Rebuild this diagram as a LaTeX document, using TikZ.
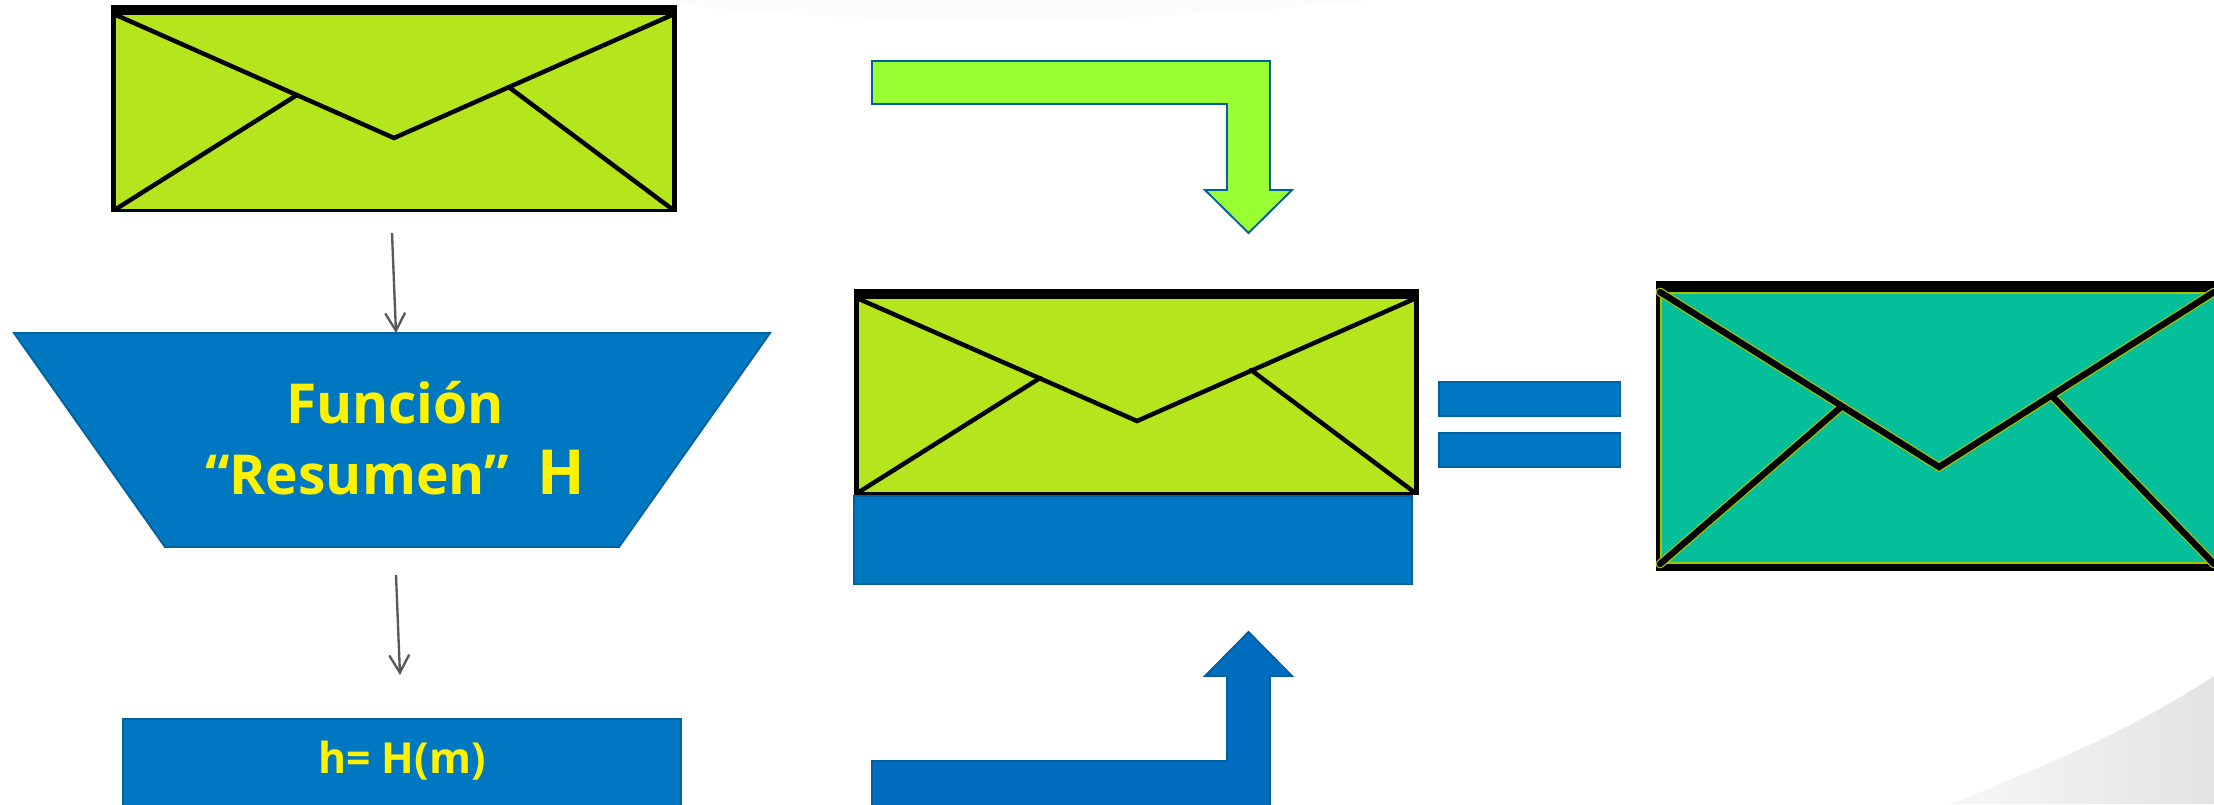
\documentclass[tikz,border=0pt]{standalone}
\usepackage{fontspec}
\setmainfont{Open Sans}
\usepackage{xcolor}
\usetikzlibrary{arrows.meta}
\definecolor{azul}{HTML}{0078C1}
\definecolor{azulborde}{HTML}{00609F}
\definecolor{azulflecha}{HTML}{006DBE}
\definecolor{verdeflecha}{HTML}{99FF33}
\definecolor{verdesobre}{HTML}{B5E61D}
\definecolor{turquesa}{HTML}{05BE9A}
\definecolor{halo}{HTML}{A3C400}
\definecolor{gris}{HTML}{595959}
\tikzset{
  caja/.style={fill=azul,draw=azulborde,line width=1.6pt},
  flecha/.style={draw=gris,line width=2pt,-{Straight Barb[length=15pt,width=17pt]}},
  linea/.style={draw=black,line width=3.8pt,line cap=round,line join=miter},
  lineagruesa/.style={draw=halo,line width=7.6pt,line cap=round},
  lineafina/.style={draw=black,line width=5.4pt,line cap=round},
  texto/.style={text=yellow,align=center,inner sep=0pt}
}
\begin{document}
\begin{tikzpicture}[x=0.03cm,y=-0.03cm]
  \useasboundingbox (0,0) rectangle (2214,804);
  \clip (0,0) rectangle (2214,804);
  \fill[white] (0,0) rectangle (2214,804);
  \fill[black!1] (640,0) .. controls (800,22) and (1100,30) .. (1370,0) -- cycle;
  \shade[left color=black!3,right color=black!11] (1950,804) .. controls (2050,765) and (2140,725) .. (2214,676) -- (2214,804) -- cycle;

  \coordinate (A1) at (116,15);
  \coordinate (B1) at (672,15);
  \coordinate (C1) at (672,209);
  \coordinate (D1) at (116,209);
  \coordinate (V1) at (394,138);
  \fill[black] (111,5) rectangle (677,212);
  \fill[verdesobre] (A1) rectangle (C1);
  \draw[linea] (A1)--(V1)--(B1);
  \draw[linea] (D1)--(297,95);
  \draw[linea] (C1)--(510,88);

  \draw[caja] (14,333)--(770,333)--(619,547)--(165,547)--cycle;
  \node[texto,anchor=base,font=\bfseries\fontsize{47}{60}\selectfont] (funcion) at (395,494) {Función\\“Resumen”\ \ {\fontsize{53}{60}\selectfont H}};
  \node[caja,minimum width=476pt,minimum height=120pt,anchor=north west] (resumen) at (122,718) {};
  \node[texto,anchor=base,font=\bfseries\fontsize{36.5}{44}\selectfont] (hash) at (402,773) {h= H(m)};

  \coordinate (f1) at (392,233);
  \coordinate (f2) at (396,333);
  \coordinate (f3) at (396,575);
  \coordinate (f4) at (400,675);
  \draw[flecha] (f1)--(f2);
  \draw[flecha] (f3)--(f4);

  \draw[fill=verdeflecha,draw=azulborde,line width=1.6pt] (872,61)--(1270,61)--(1270,190)--(1292,190)--(1248.5,233)--(1205,190)--(1227,190)--(1227,104)--(872,104)--cycle;

  \coordinate (A2) at (859,299);
  \coordinate (B2) at (1414,299);
  \coordinate (C2) at (1414,492);
  \coordinate (D2) at (859,492);
  \coordinate (V2) at (1137,421);
  \fill[black] (854,289) rectangle (1419,495);
  \fill[verdesobre] (A2) rectangle (C2);
  \draw[linea] (A2)--(V2)--(B2);
  \draw[linea] (D2)--(1040,378);
  \draw[linea] (C2)--(1251,370);
  \node[caja,minimum width=476pt,minimum height=75pt,anchor=north west] (firma) at (853,495) {};

  \draw[fill=azulflecha,draw=azulborde,line width=1.6pt] (872,820)--(872,761)--(1227,761)--(1227,676)--(1205,676)--(1248.5,632)--(1292,676)--(1270,676)--(1270,820)--cycle;

  \node[caja,minimum width=155pt,minimum height=29pt,anchor=north west] (igual1) at (1438,381) {};
  \node[caja,minimum width=155pt,minimum height=29pt,anchor=north west] (igual2) at (1438,432) {};

  \coordinate (A3) at (1660,292);
  \coordinate (B3) at (2214,292);
  \coordinate (C3) at (2214,564);
  \coordinate (D3) at (1660,564);
  \coordinate (V3) at (1939,467);
  \fill[black] (1656,281) rectangle (2220,571);
  \fill[halo] (1660,292) rectangle (2220,564);
  \fill[turquesa] (1662,294) rectangle (2220,562);
  \draw[lineagruesa] (A3)--(V3)--(B3);
  \draw[lineagruesa] (D3)--(1841,407);
  \draw[lineagruesa] (C3)--(2053,397);
  \draw[lineafina] (A3)--(V3)--(B3);
  \draw[lineafina] (D3)--(1841,407);
  \draw[lineafina] (C3)--(2053,397);
\end{tikzpicture}
\end{document}
